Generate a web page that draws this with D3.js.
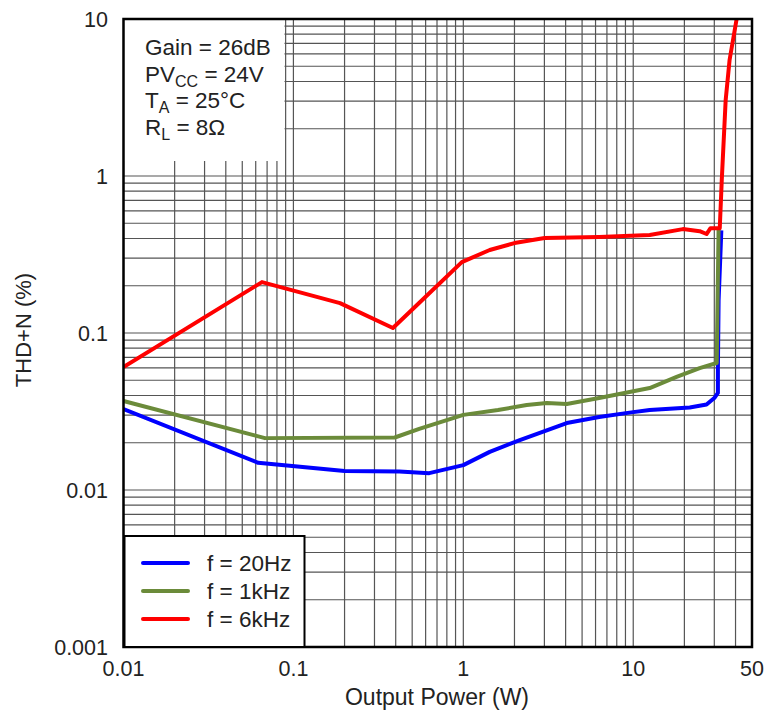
<!DOCTYPE html>
<html lang="en">
<head>
<meta charset="utf-8">
<title>THD+N vs Output Power</title>
<style>
  body { margin: 0; background: #fff; }
  svg text { font-family: "Liberation Sans", Arial, sans-serif; fill: #222; }
  .grid line { stroke: #555; stroke-width: 1.2; }
</style>
</head>
<body>
<svg id="chart" width="766" height="713"></svg>
<script src="https://d3js.org/d3.v7.min.js"></script>
<script>
// series: f = 20Hz
var p20 = [0.01, 0.062, 0.2, 0.42, 0.63, 1.0, 1.43, 2.15, 4.06, 6.3, 9.5, 12.5, 21.5, 27, 30, 31.5, 31.5, 31.8, 33];
var thd20 = [0.0328, 0.0149, 0.0132, 0.0131, 0.0128, 0.0144, 0.0175, 0.0208, 0.0267, 0.0292, 0.0311, 0.0323, 0.0335, 0.035, 0.0385, 0.0415, 0.06, 0.162, 0.45];
// series: f = 1kHz
var p1k = [0.01, 0.068, 0.395, 0.55, 1.0, 1.6, 2.36, 3.1, 4.06, 6.3, 12.5, 18, 24.6, 31, 31.8];
var thd1k = [0.0369, 0.0214, 0.0216, 0.0245, 0.0301, 0.0323, 0.0348, 0.0358, 0.0353, 0.0385, 0.0446, 0.0525, 0.0598, 0.0644, 0.473];
// series: f = 6kHz
var p6k = [0.01, 0.0653, 0.188, 0.385, 0.555, 0.98, 1.43, 2.0, 3.01, 6.3, 12.5, 19.6, 24.6, 27, 28.5, 32.3, 33.2, 35.0, 36.9, 40.6];
var thd6k = [0.0607, 0.211, 0.155, 0.1076, 0.157, 0.283, 0.338, 0.374, 0.403, 0.409, 0.421, 0.459, 0.445, 0.427, 0.465, 0.465, 0.944, 3.05, 5.48, 10];

var seriesNames = ["f = 20Hz", "f = 1kHz", "f = 6kHz"];
var seriesColors = ["#0000ff", "#6b8b3a", "#ff0000"];
var xTicks = [0.01, 0.1, 1, 10, 50];
var xTickLabels = ["0.01", "0.1", "1", "10", "50"];
var yTicks = [0.001, 0.01, 0.1, 1, 10];
var yTickLabels = ["0.001", "0.01", "0.1", "1", "10"];

var svg = d3.select("#chart");
var m = {left: 123.5, top: 19, right: 752, bottom: 647};

var x = d3.scaleLog().domain([0.01, 50]).range([m.left, m.right]);
var y = d3.scaleLog().domain([0.001, 10]).range([m.bottom, m.top]);

// log grid (1..9 per decade)
function logGrid(lo, hi) {
  var out = [];
  for (var e = Math.floor(Math.log10(lo)); e <= Math.ceil(Math.log10(hi)); e++) {
    for (var k = 1; k <= 9; k++) {
      var v = k * Math.pow(10, e);
      if (v >= lo * 0.999 && v <= hi * 1.001) out.push(v);
    }
  }
  return out;
}

var grid = svg.append("g").attr("class", "grid");
grid.selectAll(".vx").data(logGrid(0.01, 50)).enter().append("line")
  .attr("x1", function(d) { return x(d); }).attr("x2", function(d) { return x(d); })
  .attr("y1", m.top).attr("y2", m.bottom);
grid.selectAll(".hy").data(logGrid(0.001, 10)).enter().append("line")
  .attr("y1", function(d) { return y(d); }).attr("y2", function(d) { return y(d); })
  .attr("x1", m.left).attr("x2", m.right);

// white box behind the conditions text
svg.append("rect").attr("x", m.left).attr("y", m.top)
  .attr("width", 161).attr("height", 142).attr("fill", "#fff");

svg.append("clipPath").attr("id", "clip").append("rect")
  .attr("x", m.left).attr("y", m.top)
  .attr("width", m.right - m.left).attr("height", m.bottom - m.top);

var line = d3.line()
  .x(function(d) { return x(d[0]); })
  .y(function(d) { return y(d[1]); });

var series = [d3.zip(p20, thd20), d3.zip(p1k, thd1k), d3.zip(p6k, thd6k)];
svg.append("g").attr("clip-path", "url(#clip)")
  .selectAll("path").data(series).enter().append("path")
  .attr("d", line)
  .attr("fill", "none")
  .attr("stroke", function(d, i) { return seriesColors[i]; })
  .attr("stroke-width", 4)
  .attr("stroke-linejoin", "round");

// frame
svg.append("rect").attr("x", m.left).attr("y", m.top)
  .attr("width", m.right - m.left).attr("height", m.bottom - m.top)
  .attr("fill", "none").attr("stroke", "#000").attr("stroke-width", 2.5);

// tick labels
svg.selectAll(".xt").data(xTicks).enter().append("text")
  .attr("x", function(d) { return x(d); }).attr("y", 676)
  .attr("text-anchor", "middle").attr("font-size", 21.5)
  .text(function(d, i) { return xTickLabels[i]; });
svg.selectAll(".yt").data(yTicks).enter().append("text")
  .attr("x", 108).attr("y", function(d) { return y(d) + 7.5; })
  .attr("text-anchor", "end").attr("font-size", 21.5)
  .text(function(d, i) { return yTickLabels[i]; });

svg.append("text").attr("x", 437).attr("y", 705).attr("text-anchor", "middle")
  .attr("font-size", 23).text("Output Power (W)");
svg.append("text").attr("transform", "translate(31,330) rotate(-90)")
  .attr("text-anchor", "middle").attr("font-size", 22).text("THD+N (%)");

// conditions
var cond = [["Gain = 26dB", "", ""], ["PV", "CC", " = 24V"], ["T", "A", " = 25°C"], ["R", "L", " = 8Ω"]];
cond.forEach(function(c, i) {
  var t = svg.append("text").attr("x", 145).attr("y", 55 + i * 26.5).attr("font-size", 22.5);
  t.append("tspan").text(c[0]);
  if (c[1]) {
    t.append("tspan").attr("font-size", 16).attr("dy", 5).text(c[1]);
    t.append("tspan").attr("dy", -5).text(c[2]);
  }
});

// legend
var lg = svg.append("g");
lg.append("rect").attr("x", 124.5).attr("y", 536).attr("width", 180).attr("height", 111)
  .attr("fill", "#fff").attr("stroke", "#000").attr("stroke-width", 2);
seriesNames.forEach(function(n, i) {
  var yy = 563 + i * 28;
  lg.append("line").attr("x1", 143).attr("x2", 188).attr("y1", yy).attr("y2", yy)
    .attr("stroke", seriesColors[i]).attr("stroke-width", 4).attr("stroke-linecap", "round");
  lg.append("text").attr("x", 207).attr("y", yy + 7.5).attr("font-size", 22.5).text(n);
});
</script>
</body>
</html>
